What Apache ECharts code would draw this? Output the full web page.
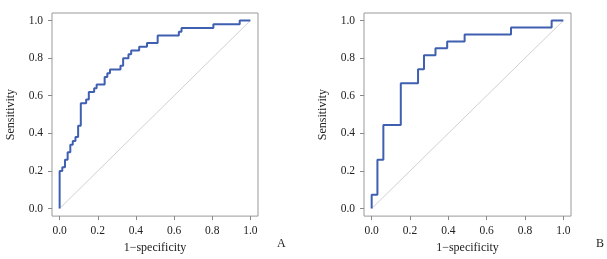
<!DOCTYPE html>
<html><head><meta charset="utf-8">
<script src="https://cdn.jsdelivr.net/npm/echarts@6/dist/echarts.min.js"></script>
<style>html,body{margin:0;padding:0;background:#fff}#c{width:607px;height:259px}</style>
</head><body><div id="c"></div>
<script>
// Panel A ROC (x = 1-specificity, y = sensitivity)
const fprA = [0, 0, 0.014, 0.028, 0.042, 0.056, 0.069, 0.083, 0.097, 0.111, 0.139, 0.153, 0.181, 0.194, 0.236, 0.250, 0.264, 0.319, 0.333, 0.361, 0.375, 0.417, 0.458, 0.514, 0.625, 0.639, 0.806, 0.944, 1.0];
const tprA = [0, 0.20, 0.22, 0.26, 0.30, 0.34, 0.36, 0.38, 0.44, 0.56, 0.58, 0.62, 0.64, 0.66, 0.70, 0.72, 0.74, 0.76, 0.80, 0.82, 0.84, 0.86, 0.88, 0.92, 0.94, 0.96, 0.98, 1.0, 1.0];
// Panel B ROC
const fprB = [0, 0, 0.030, 0.061, 0.152, 0.242, 0.273, 0.333, 0.394, 0.485, 0.727, 0.939, 1.0];
const tprB = [0, 0.074, 0.259, 0.444, 0.667, 0.741, 0.815, 0.852, 0.889, 0.926, 0.963, 1.0, 1.0];
const ticks = [0, 0.2, 0.4, 0.6, 0.8, 1.0];
const diag = [[0, 0], [1, 1]];
const xTitle = '1\u2212specificity';
const yTitle = 'Sensitivity';
const panels = ['A', 'B'];

const font = '"Liberation Serif","DejaVu Serif",serif';
const pairs = (xs, ys) => xs.map((x, i) => [x, ys[i]]);
function axis(type, idx) {
  return {
    type: 'value', gridIndex: idx, min: -0.04, max: 1.04,
    name: type === 'x' ? xTitle : yTitle, nameLocation: 'middle',
    nameGap: type === 'x' ? 24 : 35,
    nameTextStyle: { fontFamily: font, fontSize: 12, color: '#222' },
    axisLine: { show: false, onZero: false },
    splitLine: { show: false },
    axisTick: { show: true, customValues: ticks, length: 4, inside: false, lineStyle: { color: '#888', width: 1 } },
    axisLabel: { customValues: ticks, fontFamily: font, fontSize: 11.5, color: '#222', margin: 9,
      formatter: v => Number(v).toFixed(1) }
  };
}
const chart = echarts.init(document.getElementById('c'), null, { renderer: 'canvas' });
chart.setOption({
  animation: false,
  grid: [
    { left: 52, top: 13, width: 206, height: 204, show: true, borderColor: '#999', borderWidth: 1, backgroundColor: 'transparent' },
    { left: 364, top: 13, width: 207, height: 204, show: true, borderColor: '#999', borderWidth: 1, backgroundColor: 'transparent' }
  ],
  xAxis: [axis('x', 0), axis('x', 1)],
  yAxis: [axis('y', 0), axis('y', 1)],
  series: [
    { type: 'line', xAxisIndex: 0, yAxisIndex: 0, data: diag, symbol: 'none', lineStyle: { color: '#d0d0d0', width: 1 } },
    { type: 'line', xAxisIndex: 0, yAxisIndex: 0, data: pairs(fprA, tprA), step: 'end', symbol: 'none', lineStyle: { color: '#3f5fb0', width: 2 } },
    { type: 'line', xAxisIndex: 1, yAxisIndex: 1, data: diag, symbol: 'none', lineStyle: { color: '#d0d0d0', width: 1 } },
    { type: 'line', xAxisIndex: 1, yAxisIndex: 1, data: pairs(fprB, tprB), step: 'end', symbol: 'none', lineStyle: { color: '#3f5fb0', width: 2 } }
  ],
  graphic: [
    { type: 'text', left: 277, top: 238, style: { text: panels[0], font: '12px ' + font, fill: '#222' } },
    { type: 'text', left: 596, top: 238, style: { text: panels[1], font: '12px ' + font, fill: '#222' } }
  ]
});
</script></body></html>
